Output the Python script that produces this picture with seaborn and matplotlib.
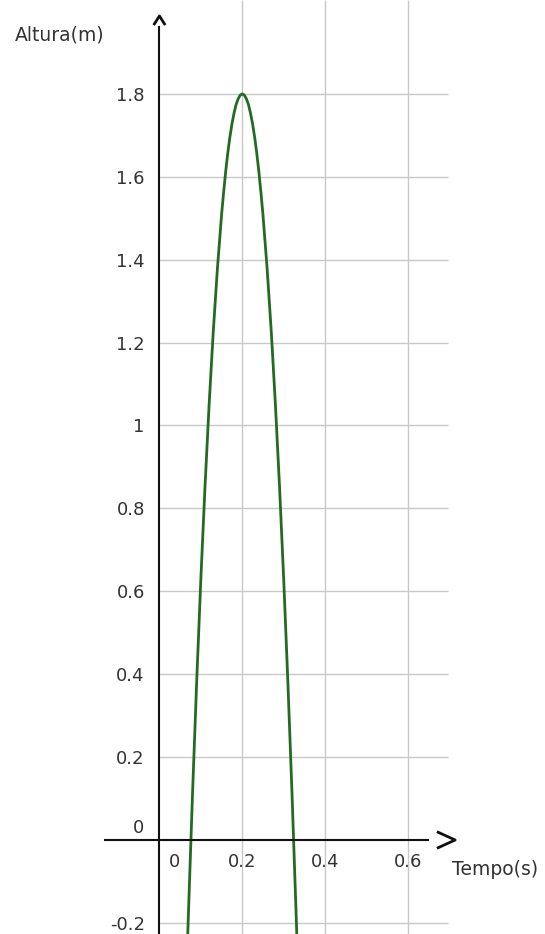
import matplotlib
matplotlib.use('Agg')
import matplotlib.pyplot as plt
import seaborn as sns
import pandas as pd

# Values (time in s, height in m)
time_s = [0.065, 0.07, 0.08, 0.09, 0.10, 0.11, 0.12, 0.13, 0.14, 0.15, 0.155, 0.16, 0.165, 0.17, 0.175,
          0.18, 0.185, 0.19, 0.195, 0.20, 0.205, 0.21, 0.215, 0.22, 0.225, 0.23, 0.235, 0.24, 0.245,
          0.25, 0.26, 0.27, 0.28, 0.29, 0.30, 0.31, 0.32, 0.33, 0.335]
height_m = [-0.332, -0.177, 0.115, 0.384, 0.63, 0.852, 1.051, 1.227, 1.379, 1.508, 1.563, 1.613, 1.657, 1.695, 1.727,
            1.753, 1.774, 1.788, 1.797, 1.80, 1.797, 1.788, 1.774, 1.753, 1.727, 1.695, 1.657, 1.613, 1.563,
            1.508, 1.379, 1.227, 1.051, 0.852, 0.63, 0.384, 0.115, -0.177, -0.332]

y_ticks = [-0.2, 0.2, 0.4, 0.6, 0.8, 1.0, 1.2, 1.4, 1.6, 1.8]
y_tick_labels = ['-0.2', '0.2', '0.4', '0.6', '0.8', '1', '1.2', '1.4', '1.6', '1.8']
x_ticks = [0.2, 0.4, 0.6]
x_tick_labels = ['0.2', '0.4', '0.6']

df = pd.DataFrame({'Tempo': time_s, 'Altura': height_m})

sns.set_style('white')
plt.rcParams['font.family'] = ['DejaVu Sans']

text_color = '#333333'
grid_color = '#c8c8c8'
fs = 13
fs_title = 13.5

fig = plt.figure(figsize=(5.45, 9.34), dpi=100)
ax = fig.add_axes([0, 0, 1, 1])
ax.set_xlim(-0.385, 0.931)
ax.set_ylim(-0.2268, 2.0265)

# grid
ax.hlines(y_ticks, 0, 0.697, color=grid_color, lw=1, zorder=1)
ax.vlines(x_ticks, -0.2268, 2.0265, color=grid_color, lw=1, zorder=1)

# curve
sns.lineplot(data=df, x='Tempo', y='Altura', sort=False, color='#236b23', lw=2, ax=ax, zorder=3)

# axes through origin
for s in ['top', 'right']:
    ax.spines[s].set_visible(False)
ax.spines['left'].set_position(('data', 0))
ax.spines['bottom'].set_position(('data', 0))
ax.spines['left'].set_bounds(-0.2268, 1.961)
ax.spines['bottom'].set_bounds(-0.132, 0.649)
for s in ['left', 'bottom']:
    ax.spines[s].set_color('#111111')
    ax.spines[s].set_linewidth(1.5)
    ax.spines[s].set_zorder(4)

ax.set_yticks(y_ticks)
ax.set_yticklabels(y_tick_labels)
ax.set_xticks(x_ticks)
ax.set_xticklabels(x_tick_labels)
ax.tick_params(axis='y', direction='out', length=4.5, width=1, pad=6, labelsize=fs,
               colors='#111111', labelcolor=text_color)
ax.tick_params(axis='x', direction='out', length=3.6, width=1, pad=6, labelsize=fs,
               colors='#111111', labelcolor=text_color)
ax.set_xlabel('')
ax.set_ylabel('')

# zero labels, shifted off the axes
ax.text(0.037, -0.053, '0', ha='center', va='center', fontsize=fs, color=text_color)
ax.text(-0.037, 0.029, '0', ha='right', va='center', fontsize=fs, color=text_color)

# arrow heads
ax.plot([-0.014, 0, 0.014], [1.966, 1.988, 1.966], color='#111111', lw=2, solid_capstyle='butt', zorder=5)
ax.plot([0.670, 0.714, 0.670], [0.02, 0, -0.02], color='#111111', lw=2, solid_capstyle='butt', zorder=5)

# axis titles
ax.text(15 / 414 - 0.385, 2.0265 - 35 / 414.5, 'Altura(m)', ha='left', va='center', fontsize=fs_title, color=text_color)
ax.text(452 / 414 - 0.385, -30 / 414.5, 'Tempo(s)', ha='left', va='center', fontsize=fs_title, color=text_color)

plt.savefig('out.png', dpi=100)
